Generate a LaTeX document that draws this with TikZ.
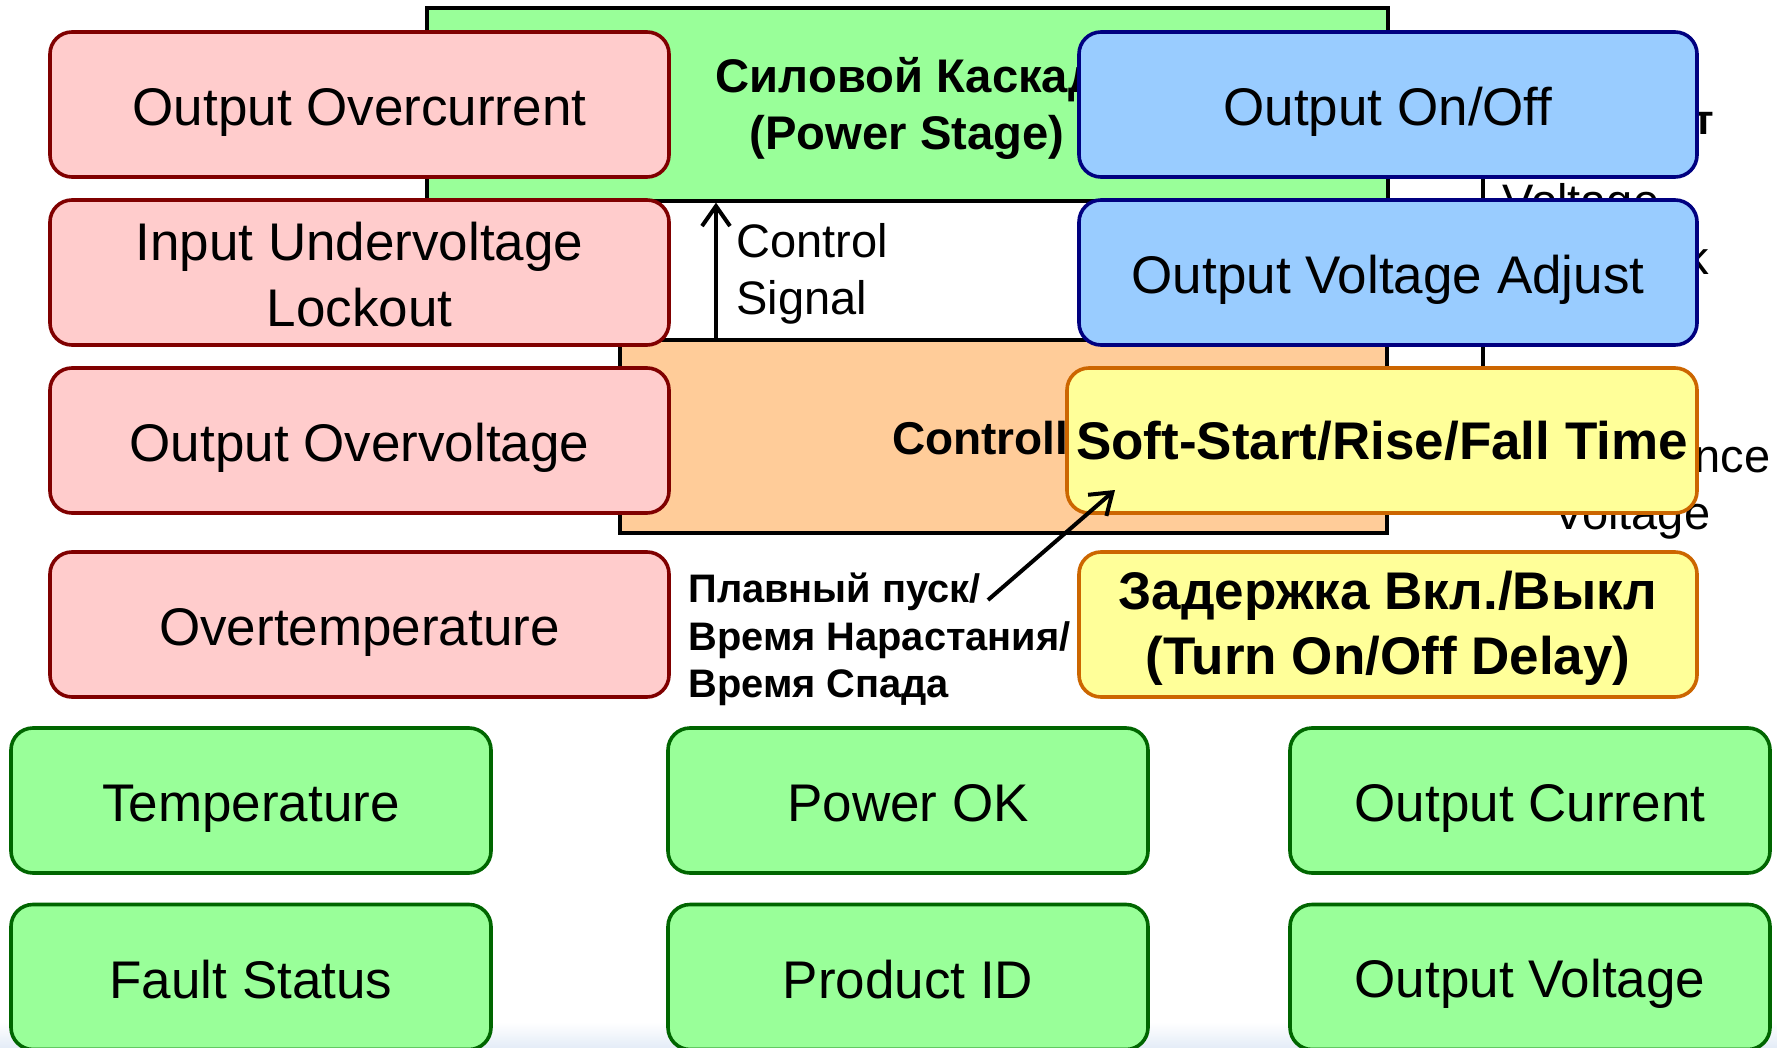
\documentclass[tikz,border=0pt]{standalone}
\usepackage{fontspec}
\setmainfont{Liberation Sans}
\usetikzlibrary{arrows.meta}

% line struts: \lnstrut centres the caps, \bxstrut sits a touch lower
\newcommand\lnstrut{\rule[-0.164em]{0pt}{1.044em}}
\newcommand\bxstrut{\rule[-0.19em]{0pt}{1.185em}}

\definecolor{redfill}{HTML}{FFCCCC}
\definecolor{redline}{HTML}{800000}
\definecolor{bluefill}{HTML}{99CCFF}
\definecolor{blueline}{HTML}{000080}
\definecolor{yelfill}{HTML}{FFFF99}
\definecolor{yelline}{HTML}{CC6600}
\definecolor{grnfill}{HTML}{99FF99}
\definecolor{grnline}{HTML}{006600}
\definecolor{orgfill}{HTML}{FFCC99}
\definecolor{hazeblue}{HTML}{E4ECF7}

\tikzset{
  fbox/.style={draw, rounded corners=11pt, line width=1.8pt,
    minimum width=309pt, minimum height=72.5pt, inner sep=2pt,
    align=center, font=\fontsize{26.5}{31.8}\selectfont},
  fault/.style={fbox, fill=redfill, draw=redline, minimum width=309.5pt},
  ctrlbox/.style={fbox, fill=bluefill, draw=blueline},
  timebox/.style={fbox, fill=yelfill, draw=yelline,
    font=\bfseries\fontsize{26.5}{32.5}\selectfont},
  telem/.style={fbox, fill=grnfill, draw=grnline, minimum width=240pt},
  block/.style={draw=black, line width=1.6pt},
  note/.style={inner sep=0pt, align=left, font=\fontsize{23.5}{28.5}\selectfont},
  arr/.style={line width=2pt,
    -{Straight Barb[length=10pt,width=14pt,line width=2pt]}}
}

\begin{document}
\begin{tikzpicture}[x=0.5pt,y=-0.5pt]
  \clip (0,0) rectangle (1777,1048);
  \fill[white] (0,0) rectangle (1777,1048);
  \shade[top color=white, bottom color=hazeblue] (0,1022) rectangle (1777,1048);

  % functional blocks in the background
  \node[block, fill=grnfill, minimum width=480.5pt, minimum height=96.5pt] (ps) at (907.5,104.5) {};
  \node[block, fill=orgfill, minimum width=383.5pt, minimum height=96.5pt] (ctl) at (1003.5,436.5) {};
  \coordinate (fbtop) at (1483,120);
  \coordinate (fbbot) at (1483,420);
  \draw[block] (fbtop) -- (fbbot);

  \node[font=\bfseries\fontsize{23.6}{28.5}\selectfont, align=center, inner sep=0pt] (pst) at (907,105)
    {\lnstrut Силовой Каскад\\\lnstrut (Power Stage)};
  \node[font=\bfseries\fontsize{23}{27}\selectfont, inner sep=0pt] (ctlt) at (1002,438) {\lnstrut Controller};

  \node[note, anchor=west] (sig) at (736,270) {\lnstrut Control\\\lnstrut Signal};
  \node[note, anchor=west] (vfb) at (1502,229) {\lnstrut Voltage\\\lnstrut Feedback};
  \node[note, anchor=west] (vref) at (1553,485) {\lnstrut Reference\\\lnstrut Voltage};
  \node[font=\bfseries\fontsize{21}{25}\selectfont, anchor=base east, inner sep=0pt] (tch) at (1714,135) {т};

  \node[font=\bfseries\fontsize{19.9}{23.8}\selectfont, align=left, inner sep=0pt, anchor=west] (sst) at (688,637)
    {\lnstrut Плавный пуск/\\\lnstrut Время Нарастания/\\\lnstrut Время Спада};

  % control signal from controller to power stage
  \coordinate (ax) at (716,0);
  \draw[arr] (ctl.north -| ax) -- (ps.south -| ax);

  % protection functions
  \node[fault] (oc) at (359.5,104.5) {\bxstrut Output Overcurrent};
  \node[fault] (uv) at (359.5,272.5) {\bxstrut Input Undervoltage\\\bxstrut Lockout};
  \node[fault] (ov) at (359.5,440.5) {\bxstrut Output Overvoltage};
  \node[fault] (ot) at (359.5,624.5) {\bxstrut Overtemperature};

  % control functions
  \node[ctrlbox] (onoff) at (1388,104.5) {\bxstrut Output On/Off};
  \node[ctrlbox] (vadj) at (1388,272.5) {\bxstrut Output Voltage Adjust};
  \node[timebox, minimum width=315pt] (soft) at (1382,440.5) {\lnstrut Soft-Start/Rise/Fall Time};
  \node[timebox] (dly) at (1388,624.5) {\lnstrut Задержка Вкл./Выкл\\\lnstrut (Turn On/Off Delay)};

  % telemetry
  \node[telem] (temp) at (251,800.5) {\bxstrut Temperature};
  \node[telem] (pok) at (908,800.5) {\bxstrut Power OK};
  \node[telem] (iout) at (1530,800.5) {\bxstrut Output Current};
  \node[telem] (flt) at (251,977) {\bxstrut Fault Status};
  \node[telem] (pid) at (908,977) {\bxstrut Product ID};
  \node[telem] (vout) at (1530,977) {\bxstrut Output Voltage};

  % pointer from the soft-start label
  \coordinate (a2s) at (988,600);
  \coordinate (a2e) at (1115,490);
  \draw[arr] (a2s) -- (a2e);
\end{tikzpicture}
\end{document}
